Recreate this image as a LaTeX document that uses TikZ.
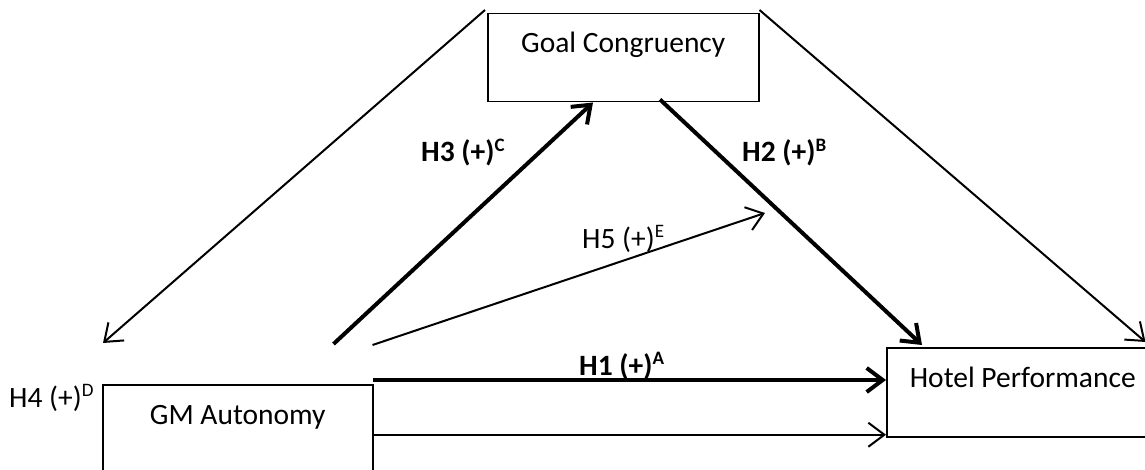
\documentclass[tikz,border=0pt]{standalone}
\usepackage{fontspec}
\setmainfont{Carlito}
\usetikzlibrary{arrows.meta}
\newcommand{\hsup}[1]{\raisebox{10.5pt}{\fontsize{19}{21}\selectfont #1}}
\tikzset{
  boxnode/.style={draw, line width=1.5pt, inner sep=0pt, anchor=north west,
    font=\fontsize{29.5}{35}\selectfont},
  thinarrow/.style={line width=2pt, -{Straight Barb[length=16pt 0, width=24pt 0]}},
  thickarrow/.style={line width=4pt, -{Straight Barb[length=16pt 0, width=24pt 0]}},
  lab/.style={anchor=base west, inner sep=0pt, font=\fontsize{29.5}{35}\selectfont},
  blab/.style={lab, font=\fontsize{29.5}{35}\selectfont\bfseries}
}
\begin{document}
\begin{tikzpicture}[x=1pt, y=-1pt]
\useasboundingbox (0,0) rectangle (1145,470);
% boxes
\node[boxnode, minimum width=271pt, text height=39pt, text depth=49pt] (gc) at (487,13) {Goal Congruency};
\node[boxnode, minimum width=270pt, text height=40pt, text depth=60pt] (gm) at (102,384) {GM Autonomy};
\node[boxnode, minimum width=272pt, text height=40pt, text depth=49pt] (hp) at (886,347) {Hotel Performance};
% coordinates
\coordinate (tl) at ([shift={(-2,-3)}]gc.north west);
\coordinate (tr) at ([shift={(0,-3)}]gc.north east);
\coordinate (h4tip) at ([shift={(1,-41)}]gm.north west);
\coordinate (rtip) at ([shift={(-14,-5)}]hp.north east);
\coordinate (h3s) at ([shift={(-40,-40)}]gm.north east);
\coordinate (h3e) at ([shift={(106,0)}]gc.south west);
\coordinate (h2s) at ([shift={(173,-3)}]gc.south west);
\coordinate (h2e) at ([shift={(36,-2)}]hp.north west);
\coordinate (h5s) at ([shift={(-1,-39)}]gm.north east);
\coordinate (h5e) at (765,213);
\coordinate (h1s) at ([shift={(-1,-4)}]gm.north east);
% connectors
\draw[thinarrow] (tl) -- (h4tip);
\draw[thinarrow] (tr) -- (rtip);
\draw[thickarrow] (h3s) -- (h3e);
\draw[thickarrow] (h2s) -- (h2e);
\draw[thinarrow] (h5s) -- (h5e);
\draw[thickarrow] (h1s) -- (h1s -| hp.west);
\draw[thinarrow] (gm.east) -- (gm.east -| hp.west);
% labels
\node[blab] (l3) at (421,162) {H3 (+)\hsup{C}};
\node[blab] (l2) at (742,162) {H2 (+)\hsup{B}};
\node[lab] (l5) at (582,248) {H5 (+)\hsup{E}};
\node[blab] (l1) at (579,375) {H1 (+)\hsup{A}};
\node[lab] (l4) at (9,407) {H4 (+)\hsup{D}};
\end{tikzpicture}
\end{document}
